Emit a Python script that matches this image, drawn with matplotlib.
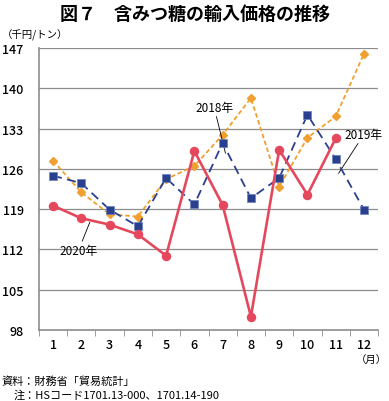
import matplotlib
matplotlib.use("Agg")
import matplotlib.pyplot as plt

plt.rcParams['font.family'] = ['Noto Sans CJK JP', 'DejaVu Sans']

months = list(range(1, 13))
month_labels = [str(m) for m in months]
y2018 = [127.4, 121.9, 118.1, 117.7, 124.2, 126.5, 131.9, 138.3, 122.9, 131.4, 135.1, 146.0]
y2019 = [124.8, 123.5, 118.9, 116.0, 124.4, 119.8, 130.5, 120.9, 124.4, 135.4, 127.7, 118.9]
y2020 = [119.6, 117.4, 116.3, 114.6, 110.9, 129.1, 119.7, 100.3, 129.3, 121.5, 131.3]
yticks = [98, 105, 112, 119, 126, 133, 140, 147]

fig = plt.figure(figsize=(3.89, 4.02), dpi=100)
ax = fig.add_axes([0.100, 0.177, 0.872, 0.701])

for y in yticks[1:]:
    ax.axhline(y, color='#8c8c8c', lw=0.9, zorder=0)

ax.plot(months, y2018, color='#F0A030', lw=1.3, ls=(0, (2.5, 1.5)), marker='D', ms=3.6,
        mfc='#F0A030', mec='#F0A030', zorder=3)
ax.plot(months, y2019, color='#2B3F8F', lw=1.3, ls=(0, (5, 3)), marker='s', ms=5.8,
        mfc='#2B3F8F', mec='#6a80c0', mew=0.5, zorder=4)
ax.plot(months[:len(y2020)], y2020, color='#E5485D', lw=1.9, marker='o', ms=5.8,
        mfc='#E5485D', mec='#E5485D', zorder=5)

ax.set_xlim(0.5, 12.5)
ax.set_ylim(98, 147)
ax.set_yticks(yticks)
ax.set_yticklabels([str(v) for v in yticks], fontsize=9, fontweight='medium')
ax.set_xticks(months)
ax.set_xticklabels(month_labels, fontsize=9, fontweight='medium')
ax.set_xticks([m + 0.5 for m in range(0, 13)], minor=True)
ax.tick_params(axis='x', which='major', length=0, pad=6)
ax.tick_params(axis='x', which='minor', length=4, color='#8c8c8c', direction='out')
ax.tick_params(axis='y', length=0, pad=11)

for s in ['top', 'right']:
    ax.spines[s].set_visible(False)
for s in ['left', 'bottom']:
    ax.spines[s].set_color('#8c8c8c')
    ax.spines[s].set_linewidth(1.2)

ax.annotate('2018年', xy=(7.1, 128.7), xytext=(6.7, 136.7), fontsize=8.5,
            ha='center', va='center', arrowprops=dict(arrowstyle='-', color='black', lw=0.6,
                                                      shrinkA=0, shrinkB=0))
ax.annotate('2019年', xy=(11.1, 125.2), xytext=(12.0, 132.0), fontsize=8.5,
            ha='center', va='center', arrowprops=dict(arrowstyle='-', color='black', lw=0.6,
                                                      shrinkA=0, shrinkB=0))
ax.annotate('2020年', xy=(2.3, 116.7), xytext=(1.9, 111.8), fontsize=8.5,
            ha='center', va='center', arrowprops=dict(arrowstyle='-', color='black', lw=0.6,
                                                      shrinkA=0, shrinkB=0))

fig.text(0.5, 0.965, '図７　含みつ糖の輸入価格の推移', ha='center', va='center',
         fontsize=13, fontweight='bold')
fig.text(0.005, 0.913, '（千円/トン）', ha='left', va='center', fontsize=7.5)
fig.text(0.995, 0.105, '（月）', ha='right', va='center', fontsize=7.5)
fig.text(0.005, 0.052, '資料：財務省「貿易統計」', ha='left', va='center', fontsize=8)
fig.text(0.035, 0.017, '注：HSコード1701.13-000、1701.14-190', ha='left', va='center', fontsize=8)

fig.savefig('out.png', dpi=100)
